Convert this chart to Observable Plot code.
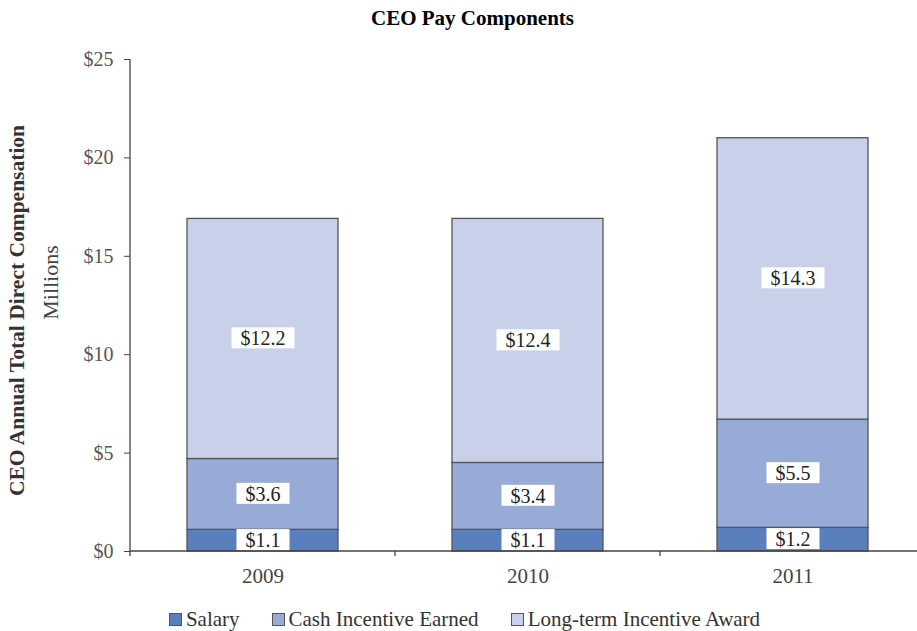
<!DOCTYPE html>
<html>
<head>
<meta charset="utf-8">
<script src="https://cdn.jsdelivr.net/npm/d3@7"></script>
<script src="https://cdn.jsdelivr.net/npm/@observablehq/plot@0.6"></script>
<style>
  body { margin: 0; background: #fff; font-family: "Liberation Serif", serif; }
  #title { height: 36px; line-height: 36px; text-align: center; font-weight: bold; font-size: 21px; color: #000; padding-left: 28px; }
  #legend { display: flex; justify-content: center; gap: 32px; font-size: 21px; color: #333; margin-top: 6px; padding-left: 12px; line-height: 24px; }
  #legend .item { display: flex; align-items: center; }
  #legend .sw { width: 11px; height: 11px; border: 1px solid #555; margin-right: 4px; }
</style>
</head>
<body>
<div id="title">CEO Pay Components</div>
<div id="chart"></div>
<div id="legend"></div>
<script>
const years = ["2009", "2010", "2011"];
const components = ["Salary", "Cash Incentive Earned", "Long-term Incentive Award"];
const salary = [1.1, 1.1, 1.2];
const cashIncentive = [3.6, 3.4, 5.5];
const longTermIncentive = [12.2, 12.4, 14.3];
const colors = ["#5a7fbd", "#98aad6", "#c8d0ea"];
const yTicks = [0, 5, 10, 15, 20, 25];

const series = [salary, cashIncentive, longTermIncentive];
const data = [];
years.forEach((yr, i) => components.forEach((c, j) => data.push({year: yr, component: c, value: series[j][i]})));

const W = 917, H = 565;
const marginLeft = 130, marginTop = 23, marginBottom = 50;

const axes = (index, {x, y}, values, dims) => {
  const g = d3.create("svg:g").attr("stroke", "#444").attr("stroke-width", 1.3);
  const y0 = y(0);
  g.append("line").attr("x1", dims.marginLeft).attr("x2", dims.marginLeft)
    .attr("y1", dims.marginTop).attr("y2", y0 + 5);
  g.append("line").attr("x1", dims.marginLeft).attr("x2", dims.width)
    .attr("y1", y0).attr("y2", y0);
  const bw = typeof x.bandwidth === "function" ? x.bandwidth() : x.bandwidth;
  for (let i = 0; i < years.length - 1; i++) {
    const bx = (x(years[i]) + bw + x(years[i + 1])) / 2;
    g.append("line").attr("x1", bx).attr("x2", bx).attr("y1", y0).attr("y2", y0 + 5);
  }
  return g.node();
};

const chart = Plot.plot({
  width: W, height: H,
  marginLeft, marginTop, marginBottom, marginRight: 0,
  style: {fontFamily: "Liberation Serif, serif", background: "#fff"},
  x: {domain: years, range: [marginLeft, 926], paddingInner: 0.43, paddingOuter: 0.215},
  y: {domain: [0, 25]},
  color: {domain: components, range: colors},
  marks: [
    Plot.barY(data, Plot.stackY({x: "year", y: "value", fill: "component", stroke: "#555", strokeWidth: 1.3, order: components})),
    Plot.axisY({ticks: yTicks, tickFormat: d => "$" + d, tickSize: 6, tickPadding: 11, fontSize: 20, color: "#555", stroke: "#444", label: null}),
    Plot.axisX({tickSize: 0, tickPadding: 17, fontSize: 21, color: "#444", label: null}),
    axes,
    Plot.text(data, Plot.stackY({x: "year", y: "value", z: "component", order: components,
      text: d => "$" + d.value.toFixed(1), fontSize: 20, fill: "#222", className: "seglabel"})),
    Plot.text(["CEO Annual Total Direct Compensation"], {frameAnchor: "left", textAnchor: "middle", rotate: -90, dx: -113, dy: 5, fontSize: 21.5, fontWeight: "bold", fill: "#333"}),
    Plot.text(["Millions"], {frameAnchor: "left", textAnchor: "middle", rotate: -90, dx: -80, dy: -23, fontSize: 22, fill: "#444", letterSpacing: 1})
  ]
});
document.getElementById("chart").appendChild(chart);

// white boxes behind segment labels
d3.select(chart).selectAll("g.seglabel text").each(function () {
  const b = this.getBBox();
  const t = this.getAttribute("transform");
  d3.select(this.parentNode).insert("rect", () => this)
    .attr("transform", t)
    .attr("x", b.x - 9).attr("y", b.y)
    .attr("width", b.width + 18).attr("height", b.height - 1)
    .attr("fill", "#fff");
});

const legend = d3.select("#legend");
components.forEach((c, i) => {
  const it = legend.append("div").attr("class", "item");
  it.append("div").attr("class", "sw").style("background", colors[i]);
  it.append("span").text(c);
});
</script>
</body>
</html>
